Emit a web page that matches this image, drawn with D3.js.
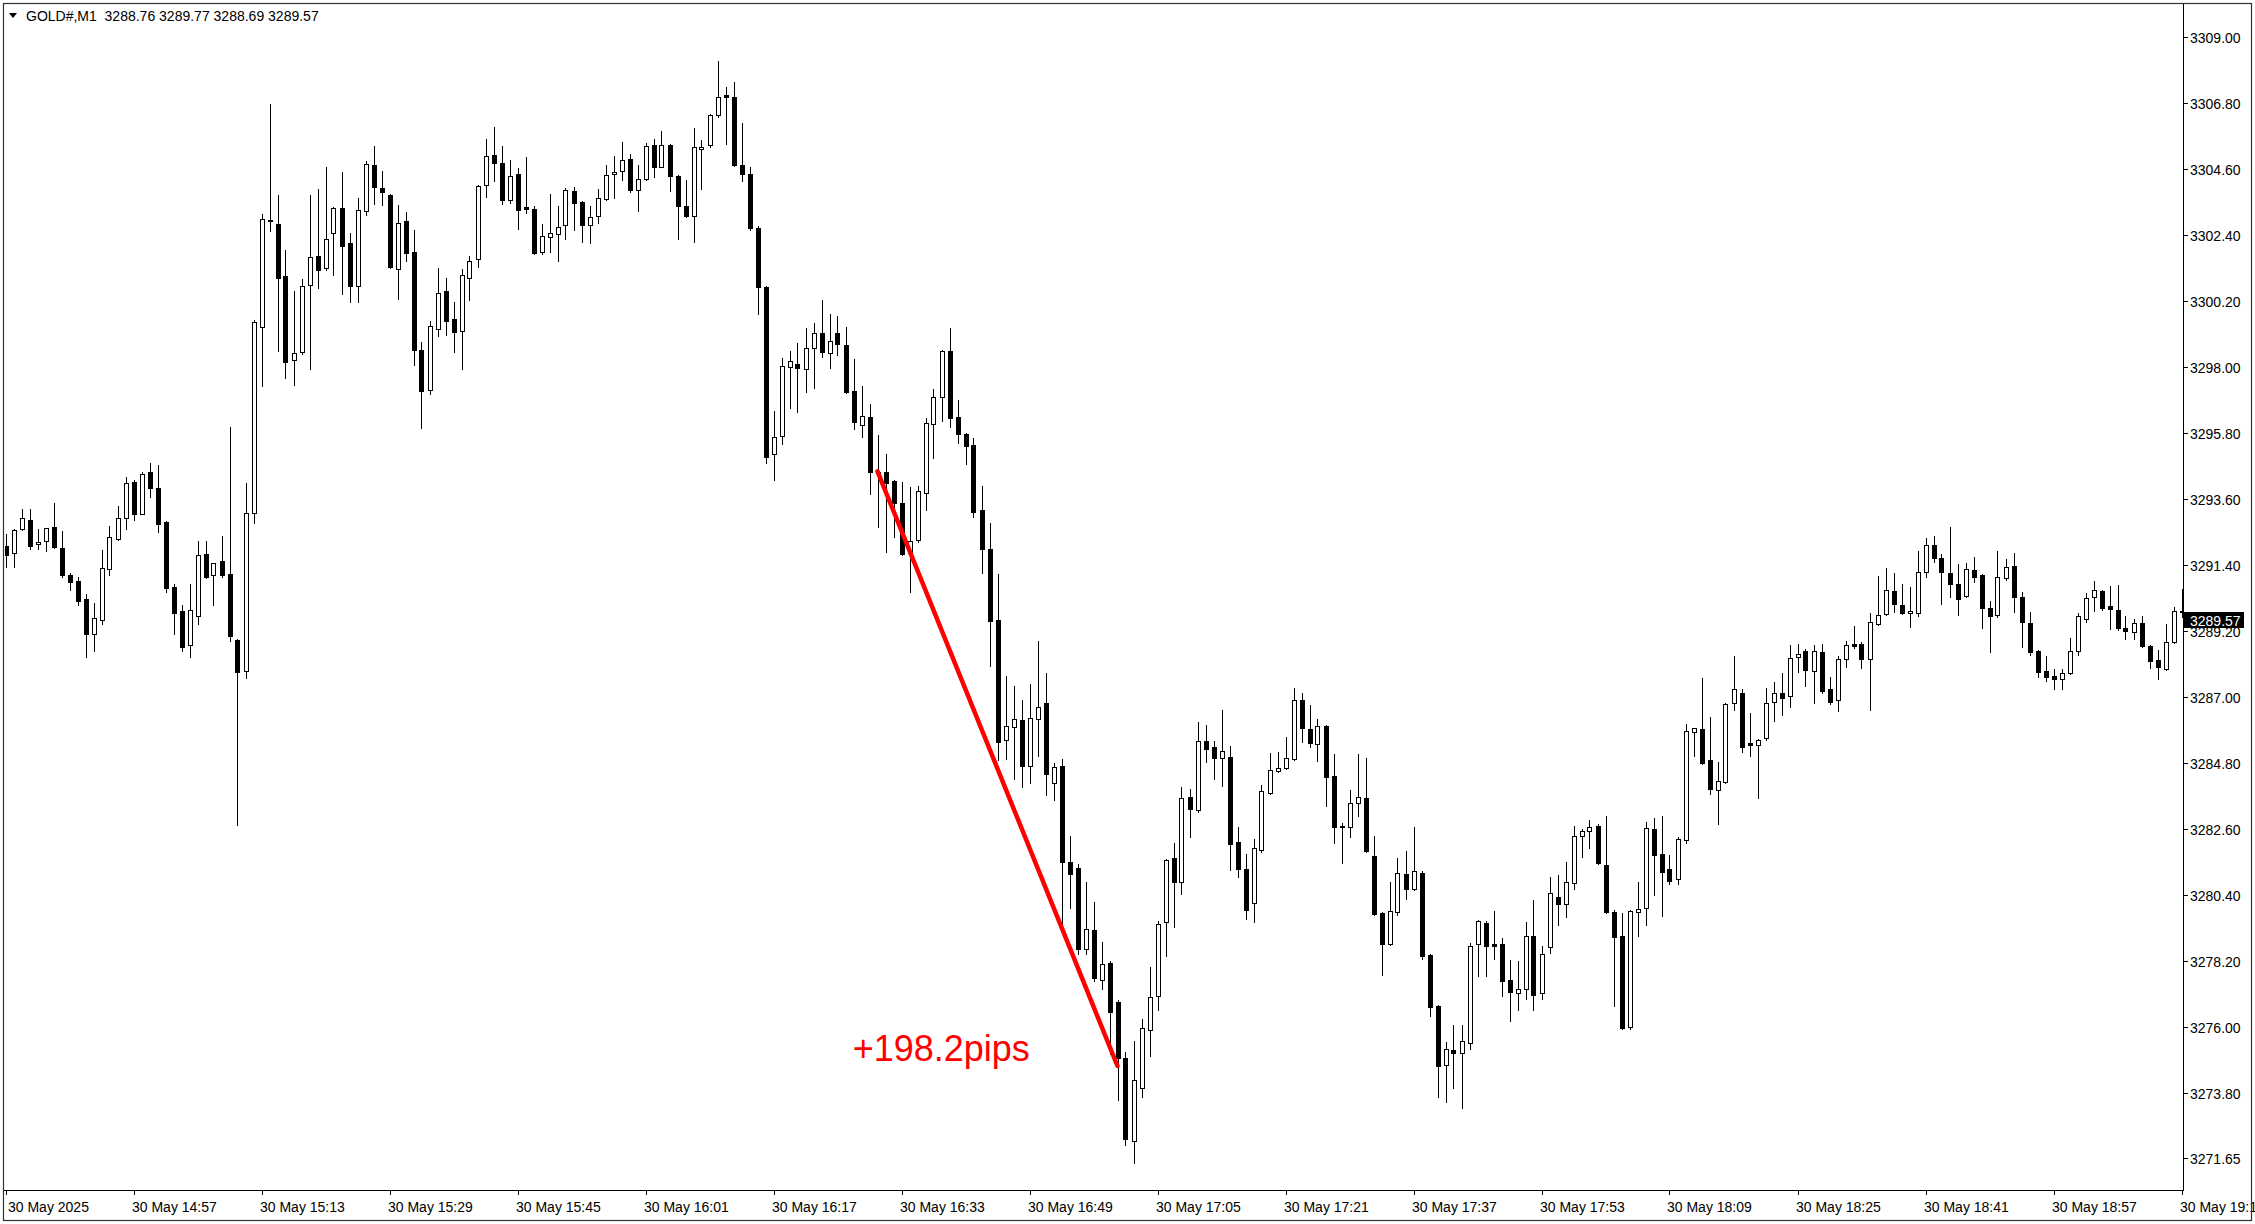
<!DOCTYPE html>
<html>
<head>
<meta charset="utf-8">
<script src="https://d3js.org/d3.v7.min.js"></script>
<style>
  html, body { margin: 0; padding: 0; background: #fff; }
  svg { display: block; font-family: "Liberation Sans", Arial, sans-serif; }
  text { white-space: pre; }
</style>
</head>
<body>
<svg id="chart" width="2255" height="1224"></svg>
<script>
// GOLD#, M1 bars from 14:41 to 19:13, 30 May 2025
var symbolTitle = "GOLD#,M1  3288.76 3289.77 3288.69 3289.57";

var opens = [
  3292.03, 3291.79, 3292.59, 3292.89, 3292.09, 3292.19, 3292.66, 3291.96, 3291.07, 3290.87,
  3290.27, 3289.09, 3289.56, 3291.26, 3292.26, 3292.96, 3294.17, 3293.11, 3294.50, 3293.97,
  3292.83, 3290.67, 3289.87, 3288.72, 3289.69, 3291.76, 3291.06, 3291.52, 3291.09, 3288.90,
  3287.87, 3293.12, 3299.34, 3302.90, 3302.76, 3301.03, 3298.22, 3298.49, 3300.74, 3301.70,
  3301.29, 3302.46, 3303.29, 3302.12, 3300.69, 3303.19, 3304.73, 3303.97, 3303.73, 3301.26,
  3302.87, 3301.83, 3298.57, 3297.22, 3299.26, 3300.52, 3299.59, 3299.19, 3300.98, 3301.60,
  3304.05, 3305.06, 3304.79, 3303.56, 3304.43, 3303.33, 3303.27, 3301.82, 3302.32, 3302.42,
  3302.72, 3303.87, 3303.50, 3302.74, 3303.02, 3303.59, 3304.42, 3304.52, 3304.93, 3303.89,
  3304.26, 3305.39, 3304.68, 3305.39, 3304.36, 3303.36, 3303.03, 3305.26, 3305.41, 3306.39,
  3307.07, 3307.00, 3304.75, 3304.45, 3302.62, 3300.65, 3295.09, 3295.69, 3297.99, 3298.09,
  3297.92, 3298.62, 3299.12, 3298.46, 3299.12, 3298.72, 3297.19, 3296.06, 3296.32, 3294.51,
  3294.51, 3294.19, 3293.46, 3291.79, 3292.22, 3293.79, 3296.09, 3297.01, 3298.52, 3296.32,
  3295.77, 3295.40, 3293.23, 3291.93, 3289.56, 3285.55, 3285.99, 3286.25, 3284.71, 3286.27,
  3286.79, 3284.12, 3284.69, 3281.50, 3281.29, 3278.61, 3279.22, 3277.56, 3278.14, 3276.84,
  3274.97, 3272.19, 3273.98, 3275.90, 3277.03, 3279.49, 3281.62, 3280.84, 3283.66, 3283.22,
  3285.53, 3285.32, 3284.96, 3285.00, 3282.16, 3281.28, 3280.12, 3281.89, 3283.81, 3284.52,
  3284.62, 3284.94, 3286.89, 3285.95, 3285.42, 3286.03, 3284.37, 3282.70, 3282.66, 3283.46,
  3283.63, 3281.70, 3279.79, 3278.76, 3279.85, 3281.09, 3280.59, 3281.13, 3278.40, 3276.70,
  3274.72, 3275.22, 3275.12, 3275.46, 3278.76, 3279.47, 3278.76, 3278.77, 3277.57, 3277.12,
  3277.26, 3279.03, 3277.12, 3278.66, 3280.33, 3280.11, 3280.79, 3282.36, 3282.52, 3282.70,
  3281.40, 3279.83, 3279.03, 3276.01, 3279.84, 3279.96, 3282.60, 3281.76, 3281.27, 3280.92,
  3282.24, 3285.83, 3285.93, 3284.90, 3283.91, 3284.17, 3286.79, 3287.13, 3285.46, 3285.39,
  3285.62, 3286.82, 3287.13, 3287.02, 3288.32, 3288.53, 3287.88, 3288.50, 3287.27, 3286.89,
  3288.26, 3288.77, 3288.77, 3288.26, 3289.42, 3289.76, 3290.53, 3290.07, 3289.79, 3289.81,
  3291.16, 3292.06, 3291.63, 3291.13, 3290.76, 3290.36, 3291.23, 3291.06, 3289.97, 3289.72,
  3290.96, 3291.37, 3290.32, 3289.46, 3288.53, 3287.87, 3287.70, 3287.59, 3287.79, 3288.53,
  3289.61, 3290.32, 3290.53, 3290.03, 3289.90, 3289.31, 3289.18, 3289.46, 3288.71, 3288.23,
  3287.94, 3288.83, 3289.87
];

var highs = [
  3292.43, 3292.60, 3293.26, 3293.26, 3292.60, 3292.64, 3293.48, 3292.53, 3291.12, 3291.00,
  3290.43, 3290.12, 3291.90, 3292.70, 3293.37, 3294.32, 3294.23, 3294.50, 3294.81, 3294.74,
  3292.88, 3290.76, 3290.06, 3290.76, 3292.21, 3292.21, 3291.48, 3292.37, 3296.00, 3288.95,
  3294.14, 3299.55, 3303.09, 3306.76, 3303.73, 3301.90, 3300.53, 3300.93, 3303.73, 3303.93,
  3304.67, 3303.33, 3304.50, 3302.46, 3303.62, 3304.87, 3305.37, 3304.53, 3303.76, 3303.40,
  3303.17, 3302.57, 3298.82, 3299.53, 3301.30, 3300.96, 3300.17, 3301.26, 3301.70, 3304.05,
  3305.60, 3305.99, 3305.36, 3304.89, 3304.64, 3305.00, 3303.37, 3302.78, 3303.77, 3303.38,
  3303.98, 3304.01, 3303.52, 3303.37, 3303.92, 3304.73, 3305.03, 3305.49, 3305.11, 3304.73,
  3305.46, 3305.60, 3305.87, 3305.42, 3304.40, 3304.23, 3305.97, 3305.57, 3306.43, 3308.20,
  3307.32, 3307.50, 3306.13, 3304.68, 3302.70, 3300.70, 3296.53, 3298.29, 3298.53, 3298.79,
  3299.31, 3299.46, 3300.23, 3299.76, 3299.70, 3299.32, 3298.26, 3297.36, 3296.76, 3295.73,
  3295.10, 3294.22, 3294.18, 3294.01, 3294.03, 3296.31, 3297.27, 3298.57, 3299.29, 3296.89,
  3295.81, 3295.62, 3294.03, 3292.79, 3291.10, 3287.71, 3287.36, 3286.90, 3287.42, 3288.87,
  3287.79, 3284.80, 3284.93, 3282.37, 3281.42, 3280.83, 3280.17, 3278.85, 3278.20, 3276.90,
  3275.15, 3275.52, 3276.26, 3277.99, 3279.54, 3281.60, 3282.13, 3283.99, 3283.93, 3286.17,
  3286.07, 3285.53, 3286.57, 3285.37, 3282.67, 3281.77, 3282.26, 3284.06, 3285.12, 3285.18,
  3285.67, 3287.30, 3287.12, 3286.73, 3286.26, 3286.06, 3285.10, 3282.80, 3283.90, 3285.10,
  3284.96, 3282.37, 3279.85, 3280.83, 3281.62, 3281.87, 3282.67, 3281.19, 3278.45, 3276.75,
  3275.50, 3276.07, 3276.07, 3278.79, 3279.57, 3279.53, 3279.87, 3278.96, 3278.23, 3278.20,
  3279.49, 3280.23, 3278.69, 3281.00, 3281.07, 3281.49, 3282.69, 3282.60, 3282.89, 3282.77,
  3283.03, 3279.90, 3279.79, 3279.90, 3280.84, 3282.83, 3282.97, 3283.03, 3281.73, 3282.32,
  3286.09, 3285.98, 3287.63, 3286.33, 3284.83, 3286.80, 3288.37, 3287.26, 3286.47, 3285.60,
  3287.30, 3287.50, 3287.79, 3288.72, 3288.76, 3288.61, 3288.73, 3288.77, 3287.66, 3288.37,
  3288.87, 3289.37, 3288.83, 3289.79, 3291.03, 3291.31, 3291.13, 3290.77, 3290.67, 3291.87,
  3292.30, 3292.37, 3291.77, 3292.67, 3291.43, 3291.47, 3291.67, 3291.10, 3290.20, 3291.87,
  3291.60, 3291.79, 3290.49, 3289.83, 3288.56, 3288.37, 3287.93, 3287.93, 3288.96, 3289.81,
  3290.46, 3290.87, 3290.57, 3290.71, 3290.74, 3289.69, 3289.61, 3289.69, 3288.74, 3288.57,
  3289.42, 3290.01, 3290.60
];

var lows = [
  3291.32, 3291.34, 3292.57, 3291.93, 3291.93, 3291.88, 3291.98, 3291.00, 3290.57, 3290.07,
  3288.34, 3288.54, 3289.42, 3291.08, 3292.24, 3292.61, 3292.91, 3293.09, 3293.68, 3292.50,
  3290.51, 3289.09, 3288.54, 3288.34, 3289.42, 3290.97, 3290.07, 3291.01, 3288.88, 3282.73,
  3287.64, 3292.80, 3297.38, 3302.54, 3298.54, 3297.64, 3297.40, 3298.45, 3297.94, 3300.62,
  3301.25, 3301.07, 3300.44, 3300.18, 3300.18, 3303.08, 3303.44, 3303.41, 3301.29, 3300.28,
  3301.54, 3298.07, 3295.96, 3297.11, 3299.04, 3299.07, 3298.51, 3297.92, 3300.24, 3301.32,
  3303.68, 3304.21, 3303.43, 3303.48, 3302.61, 3303.12, 3301.77, 3301.76, 3301.84, 3301.54,
  3302.28, 3302.57, 3302.17, 3302.14, 3302.81, 3303.57, 3303.64, 3304.23, 3303.84, 3303.21,
  3304.22, 3304.34, 3304.65, 3303.88, 3302.28, 3302.99, 3302.17, 3303.94, 3305.34, 3306.35,
  3305.43, 3304.70, 3304.21, 3302.57, 3299.77, 3294.79, 3294.24, 3295.44, 3296.64, 3296.51,
  3297.18, 3297.31, 3298.32, 3297.98, 3298.39, 3297.14, 3295.92, 3295.68, 3293.76, 3292.68,
  3291.84, 3292.32, 3291.73, 3290.51, 3292.18, 3293.24, 3294.96, 3296.21, 3296.01, 3295.48,
  3294.76, 3293.01, 3291.14, 3288.04, 3284.89, 3284.94, 3284.28, 3283.99, 3284.12, 3285.02,
  3283.75, 3283.58, 3279.22, 3279.96, 3278.42, 3278.42, 3277.52, 3277.27, 3275.09, 3273.58,
  3272.07, 3271.46, 3273.67, 3275.03, 3276.57, 3278.37, 3279.34, 3280.42, 3282.34, 3283.18,
  3284.84, 3284.27, 3284.03, 3281.23, 3281.01, 3279.61, 3279.51, 3281.85, 3283.78, 3284.49,
  3284.59, 3284.90, 3285.50, 3285.34, 3284.88, 3283.38, 3282.14, 3281.48, 3282.34, 3283.04,
  3281.83, 3279.75, 3277.74, 3278.72, 3279.73, 3280.28, 3280.55, 3278.28, 3276.38, 3273.68,
  3273.51, 3273.96, 3273.29, 3275.28, 3277.71, 3277.71, 3278.28, 3277.04, 3276.21, 3276.58,
  3276.94, 3276.58, 3276.94, 3278.48, 3279.41, 3279.68, 3280.59, 3281.68, 3281.98, 3281.44,
  3279.80, 3276.71, 3275.92, 3275.94, 3279.04, 3279.41, 3280.40, 3279.71, 3280.77, 3280.77,
  3282.14, 3285.03, 3284.78, 3283.78, 3282.78, 3284.14, 3286.57, 3285.18, 3285.03, 3283.64,
  3285.58, 3286.21, 3286.41, 3286.68, 3287.82, 3287.38, 3286.79, 3287.14, 3286.76, 3286.54,
  3288.01, 3288.62, 3287.98, 3286.58, 3289.40, 3289.73, 3289.84, 3289.78, 3289.34, 3289.71,
  3291.01, 3291.50, 3290.11, 3290.34, 3289.74, 3290.33, 3290.84, 3289.31, 3288.51, 3289.68,
  3290.90, 3289.84, 3288.68, 3288.39, 3287.68, 3287.53, 3287.26, 3287.28, 3287.76, 3288.39,
  3289.51, 3289.88, 3289.90, 3289.26, 3289.23, 3288.94, 3288.94, 3288.68, 3287.96, 3287.59,
  3287.90, 3288.79, 3289.65
];

var closes = [
  3291.72, 3292.57, 3292.96, 3292.04, 3292.16, 3292.62, 3292.01, 3291.07, 3290.84, 3290.21,
  3289.09, 3289.62, 3291.29, 3292.32, 3292.96, 3294.12, 3293.11, 3294.43, 3293.96, 3292.78,
  3290.62, 3289.81, 3288.68, 3289.89, 3291.72, 3290.99, 3291.46, 3291.08, 3289.04, 3287.82,
  3293.12, 3299.49, 3302.93, 3302.88, 3300.96, 3298.18, 3298.46, 3300.70, 3301.67, 3301.24,
  3302.27, 3303.29, 3302.04, 3300.69, 3303.22, 3304.76, 3303.99, 3303.84, 3301.34, 3302.79,
  3301.79, 3298.56, 3297.21, 3299.36, 3300.46, 3299.54, 3299.16, 3301.06, 3301.54, 3304.02,
  3305.03, 3304.79, 3303.58, 3304.36, 3303.24, 3303.28, 3301.80, 3302.36, 3302.47, 3302.67,
  3303.90, 3303.48, 3302.74, 3302.99, 3303.62, 3304.39, 3304.49, 3304.89, 3303.91, 3304.26,
  3305.36, 3304.68, 3305.39, 3304.38, 3303.36, 3303.02, 3305.32, 3305.32, 3306.39, 3306.99,
  3307.01, 3304.74, 3304.42, 3302.62, 3300.65, 3294.99, 3295.67, 3298.02, 3298.19, 3297.98,
  3298.62, 3299.12, 3298.49, 3298.88, 3298.76, 3297.18, 3296.16, 3296.38, 3294.51, 3294.48,
  3294.14, 3293.46, 3291.77, 3292.21, 3293.86, 3296.12, 3296.99, 3298.52, 3296.31, 3295.76,
  3295.36, 3293.16, 3291.92, 3289.52, 3285.51, 3286.04, 3286.28, 3284.71, 3286.29, 3286.68,
  3284.45, 3284.65, 3281.50, 3281.10, 3278.61, 3279.27, 3277.64, 3278.11, 3276.51, 3274.97,
  3272.26, 3274.23, 3275.96, 3277.00, 3279.42, 3281.56, 3280.84, 3283.62, 3283.28, 3285.52,
  3285.28, 3284.98, 3285.20, 3282.11, 3281.28, 3279.91, 3281.96, 3283.86, 3284.56, 3284.62,
  3284.96, 3286.89, 3285.98, 3285.46, 3286.03, 3284.34, 3282.68, 3282.68, 3283.46, 3283.66,
  3281.87, 3279.78, 3278.76, 3279.86, 3281.12, 3280.59, 3281.19, 3278.38, 3276.68, 3274.71,
  3275.26, 3275.14, 3275.52, 3278.70, 3279.53, 3278.71, 3278.70, 3277.54, 3277.18, 3277.26,
  3279.03, 3277.08, 3278.43, 3280.46, 3280.11, 3280.82, 3282.36, 3282.54, 3282.66, 3281.48,
  3279.84, 3279.01, 3275.96, 3279.87, 3279.93, 3282.62, 3281.74, 3281.18, 3280.88, 3282.26,
  3285.87, 3285.96, 3284.81, 3283.94, 3284.19, 3286.77, 3287.26, 3285.34, 3285.39, 3285.57,
  3286.79, 3287.12, 3286.98, 3288.29, 3288.42, 3287.91, 3288.53, 3287.21, 3286.84, 3288.26,
  3288.73, 3288.71, 3288.26, 3289.49, 3289.73, 3290.56, 3290.09, 3289.80, 3289.86, 3291.16,
  3292.06, 3291.62, 3291.16, 3290.76, 3290.28, 3291.27, 3290.99, 3289.98, 3289.69, 3291.00,
  3291.32, 3290.34, 3289.49, 3288.49, 3287.84, 3287.68, 3287.59, 3287.79, 3288.53, 3289.69,
  3290.29, 3290.56, 3289.96, 3289.92, 3289.31, 3289.21, 3289.46, 3288.71, 3288.21, 3287.99,
  3288.82, 3289.87, 3289.82
];

// one label every 16 bars
var timeLabels = ["30 May 2025", "30 May 14:57", "30 May 15:13", "30 May 15:29", "30 May 15:45",
  "30 May 16:01", "30 May 16:17", "30 May 16:33", "30 May 16:49", "30 May 17:05", "30 May 17:21",
  "30 May 17:37", "30 May 17:53", "30 May 18:09", "30 May 18:25", "30 May 18:41", "30 May 18:57",
  "30 May 19:13"];
var labelEvery = 16;

var priceTicks = [3309.00, 3306.80, 3304.60, 3302.40, 3300.20, 3298.00, 3295.80, 3293.60, 3291.40,
  3289.20, 3287.00, 3284.80, 3282.60, 3280.40, 3278.20, 3276.00, 3273.80, 3271.65];
var lastPrice = 3289.57;

// hand drawn trend line with its label
var moveBars = [109, 139];
var movePrices = [3294.52, 3274.70];
var moveText = "+198.2pips";
var moveTextBar = 105.9;
var moveTextPrice = 3274.87;

var width = 2255, height = 1224;
var plotRight = 2183, plotBottom = 1190;

var svg = d3.select("#chart");
svg.append("rect").attr("width", width).attr("height", height).attr("fill", "#fff");

var x = d3.scaleLinear().domain([0, opens.length - 1]).range([5.5, 2181.5]);
var y = d3.scaleLinear()
    .domain([priceTicks[priceTicks.length - 1], priceTicks[0]])
    .range([1157.5, 37]);

var bars = opens.map(function (o, i) {
    var c = closes[i];
    return {
        i: i, o: o, c: c,
        h: Math.max(highs[i], o, c),
        l: Math.min(lows[i], o, c)
    };
});

svg.append("clipPath").attr("id", "plotClip")
    .append("rect").attr("x", 5).attr("y", 5)
    .attr("width", plotRight - 5).attr("height", plotBottom - 5);

var plot = svg.append("g")
    .attr("clip-path", "url(#plotClip)")
    .attr("shape-rendering", "crispEdges");

function cx(d) { return Math.round(x(d.i)); }

// wicks
plot.selectAll("line.wick")
    .data(bars)
    .enter()
    .append("line")
    .attr("class", "wick")
    .attr("x1", d => cx(d) + 0.5)
    .attr("x2", d => cx(d) + 0.5)
    .attr("y1", d => Math.round(y(d.h)))
    .attr("y2", d => Math.round(y(d.l)) + 1)
    .attr("stroke", "#000")
    .attr("stroke-width", 1);

var flat = bars.filter(d => Math.abs(Math.round(y(d.o)) - Math.round(y(d.c))) < 1);
var up = bars.filter(d => d.c > d.o && flat.indexOf(d) < 0);
var down = bars.filter(d => d.c < d.o && flat.indexOf(d) < 0);

// bull bodies: hollow
plot.selectAll("rect.up")
    .data(up)
    .enter()
    .append("rect")
    .attr("class", "up")
    .attr("x", d => cx(d) - 1.5)
    .attr("y", d => Math.round(y(d.c)) + 0.5)
    .attr("width", 4)
    .attr("height", d => Math.max(1, Math.round(y(d.o)) - Math.round(y(d.c))))
    .attr("fill", "#fff")
    .attr("stroke", "#000")
    .attr("stroke-width", 1);

// bear bodies: filled
plot.selectAll("rect.down")
    .data(down)
    .enter()
    .append("rect")
    .attr("class", "down")
    .attr("x", d => cx(d) - 2)
    .attr("y", d => Math.round(y(d.o)))
    .attr("width", 5)
    .attr("height", d => Math.round(y(d.c)) - Math.round(y(d.o)) + 1)
    .attr("fill", "#000");

plot.selectAll("line.flat")
    .data(flat)
    .enter()
    .append("line")
    .attr("class", "flat")
    .attr("x1", d => cx(d) - 2)
    .attr("x2", d => cx(d) + 3)
    .attr("y1", d => Math.round(y(d.o)) + 0.5)
    .attr("y2", d => Math.round(y(d.o)) + 0.5)
    .attr("stroke", "#000")
    .attr("stroke-width", 1);

// trend line + label
svg.append("line")
    .attr("x1", x(moveBars[0]))
    .attr("y1", y(movePrices[0]))
    .attr("x2", x(moveBars[1]))
    .attr("y2", y(movePrices[1]))
    .attr("stroke", "#ff0000")
    .attr("stroke-width", 4.5)
    .attr("stroke-linecap", "round");

svg.append("text")
    .attr("x", x(moveTextBar))
    .attr("y", y(moveTextPrice))
    .attr("fill", "#ff0000")
    .attr("font-size", 36)
    .text(moveText);

// price scale
var axisG = svg.append("g").attr("shape-rendering", "crispEdges");

axisG.append("line")
    .attr("x1", plotRight + 0.5).attr("x2", plotRight + 0.5)
    .attr("y1", 4).attr("y2", plotBottom + 1)
    .attr("stroke", "#000");

axisG.append("line")
    .attr("x1", 4).attr("x2", plotRight + 1)
    .attr("y1", plotBottom + 0.5).attr("y2", plotBottom + 0.5)
    .attr("stroke", "#000");

var pTicks = axisG.selectAll("g.ptick")
    .data(priceTicks)
    .enter()
    .append("g")
    .attr("class", "ptick")
    .attr("transform", d => "translate(" + plotRight + "," + Math.round(y(d)) + ")");

pTicks.append("line")
    .attr("x1", 0).attr("x2", 5)
    .attr("y1", 0.5).attr("y2", 0.5)
    .attr("stroke", "#000");

pTicks.append("text")
    .attr("x", 7)
    .attr("y", 5.5)
    .attr("font-size", 14)
    .attr("fill", "#000")
    .text(d => d.toFixed(2));

// current price marker
var lastY = Math.round(y(lastPrice));
axisG.append("rect")
    .attr("x", plotRight + 1)
    .attr("y", lastY - 8)
    .attr("width", 60)
    .attr("height", 16)
    .attr("fill", "#000");
axisG.append("text")
    .attr("x", plotRight + 7)
    .attr("y", lastY + 5.5)
    .attr("font-size", 14)
    .attr("fill", "#fff")
    .text(lastPrice.toFixed(2));

// time scale
var tTicks = axisG.selectAll("g.ttick")
    .data(timeLabels)
    .enter()
    .append("g")
    .attr("class", "ttick")
    .attr("transform", (d, k) => "translate(" + Math.round(x(k * labelEvery)) + "," + plotBottom + ")");

tTicks.append("line")
    .attr("x1", 0.5).attr("x2", 0.5)
    .attr("y1", 0).attr("y2", 5)
    .attr("stroke", "#000");

tTicks.append("text")
    .attr("x", (d, k) => k === 0 ? 2 : -2)
    .attr("y", 22)
    .attr("font-size", 14)
    .attr("fill", "#000")
    .text(d => d);

// header
svg.append("path")
    .attr("d", "M9,13 L17,13 L13,18 Z")
    .attr("fill", "#000");
svg.append("text")
    .attr("x", 26)
    .attr("y", 20.5)
    .attr("font-size", 14)
    .attr("fill", "#000")
    .text(symbolTitle);

// window frame
svg.append("rect")
    .attr("x", 3.5).attr("y", 3.5)
    .attr("width", width - 7).attr("height", height - 7)
    .attr("fill", "none")
    .attr("stroke", "#333")
    .attr("stroke-width", 1.2);
</script>
</body>
</html>
